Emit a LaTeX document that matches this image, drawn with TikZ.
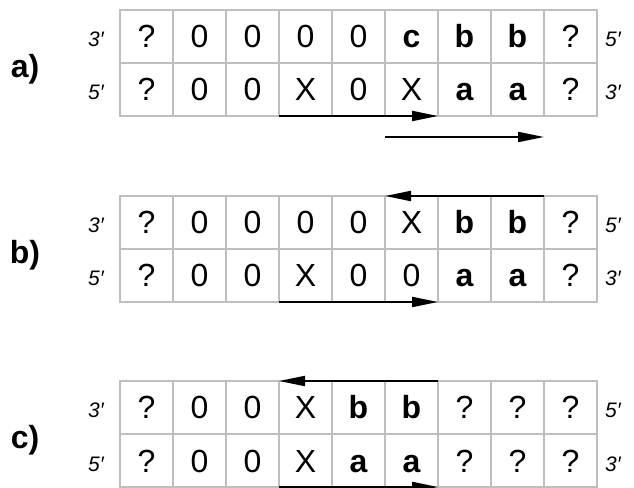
\documentclass[tikz,border=0pt]{standalone}
\usepackage{fontspec}
\setmainfont{Liberation Sans}
\usetikzlibrary{arrows.meta}
\definecolor{gridgray}{RGB}{190,190,190}
\tikzset{
  cell/.style={rectangle, draw=gridgray, line width=1.5pt,
    minimum width=53pt, minimum height=53pt, inner sep=0pt, outer sep=0pt,
    text height=23pt, text depth=0pt, font=\fontsize{32}{36}\selectfont},
  endlabel/.style={anchor=base, inner sep=0pt,
    font=\fontsize{21}{24}\selectfont\itshape},
  partlabel/.style={anchor=base, inner sep=0pt,
    font=\fontsize{32}{36}\selectfont\bfseries},
  arrow/.style={-{Triangle[length=26pt,width=10pt]}, line width=2pt, color=black}
}

\begin{document}
\begin{tikzpicture}[x=1pt, y=1pt]
  \useasboundingbox (0,0) rectangle (634,487);
  % a) strands
  \foreach \t [count=\i] in {?,0,0,0,0,{\textbf{c}},{\textbf{b}},{\textbf{b}},?}
    \node[cell] (a-t\i) at ({93.5+53*\i}, 450.5) {\t};
  \foreach \t [count=\i] in {?,0,0,X,0,X,{\textbf{a}},{\textbf{a}},?}
    \node[cell] (a-b\i) at ({93.5+53*\i}, 397.5) {\t};
  \node[partlabel] (a-lbl) at (25,409) {a)};
  \node[endlabel] (a-l1) at (96,440) {3′};
  \node[endlabel] (a-l2) at (96,387) {5′};
  \node[endlabel] (a-r1) at (613,440) {5′};
  \node[endlabel] (a-r2) at (613,387) {3′};
  \coordinate (a-from) at (385,350);
  \coordinate (a-to) at (544,350);
  \draw[arrow] (a-b4.south west) -- (a-b6.south east);
  \draw[arrow] (a-from) -- (a-to);
  % b) strands
  \foreach \t [count=\i] in {?,0,0,0,0,X,{\textbf{b}},{\textbf{b}},?}
    \node[cell] (b-t\i) at ({93.5+53*\i}, 264.5) {\t};
  \foreach \t [count=\i] in {?,0,0,X,0,0,{\textbf{a}},{\textbf{a}},?}
    \node[cell] (b-b\i) at ({93.5+53*\i}, 211.5) {\t};
  \node[partlabel] (b-lbl) at (25,223.5) {b)};
  \node[endlabel] (b-l1) at (96,254) {3′};
  \node[endlabel] (b-l2) at (96,201) {5′};
  \node[endlabel] (b-r1) at (613,254) {5′};
  \node[endlabel] (b-r2) at (613,201) {3′};
  \draw[arrow] (b-t8.north east) -- (b-t6.north west);
  \draw[arrow] (b-b4.south west) -- (b-b6.south east);
  % c) strands
  \foreach \t [count=\i] in {?,0,0,X,{\textbf{b}},{\textbf{b}},?,?,?}
    \node[cell] (c-t\i) at ({93.5+53*\i}, 79.5) {\t};
  \foreach \t [count=\i] in {?,0,0,X,{\textbf{a}},{\textbf{a}},?,?,?}
    \node[cell] (c-b\i) at ({93.5+53*\i}, 26.5) {\t};
  \node[partlabel] (c-lbl) at (25,38) {c)};
  \node[endlabel] (c-l1) at (96,69) {3′};
  \node[endlabel] (c-l2) at (96,16) {5′};
  \node[endlabel] (c-r1) at (613,69) {5′};
  \node[endlabel] (c-r2) at (613,16) {3′};
  \draw[arrow] (c-t6.north east) -- (c-t4.north west);
  \draw[arrow] (c-b4.south west) -- (c-b6.south east);
\end{tikzpicture}
\end{document}
